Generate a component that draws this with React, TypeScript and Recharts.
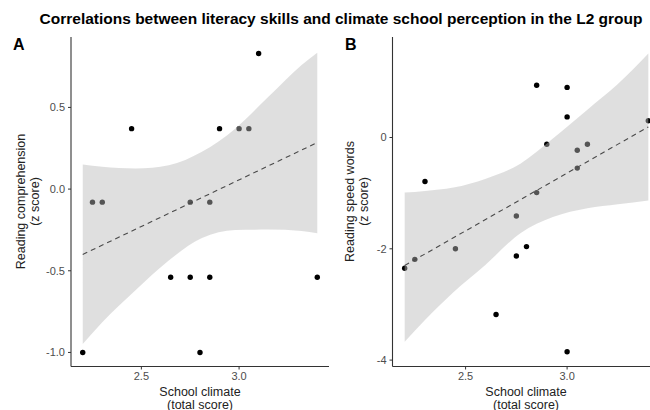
import React from 'react';
import { ComposedChart, Scatter, Area, Line, XAxis, YAxis } from 'recharts';

// Panel A: Reading comprehension
const aX = [3.1, 2.45, 2.9, 3.0, 3.05, 2.25, 2.3, 2.75, 2.85, 2.65, 2.75, 2.85, 3.4, 2.2, 2.8];
const aY = [0.83, 0.37, 0.37, 0.37, 0.37, -0.08, -0.08, -0.08, -0.08, -0.54, -0.54, -0.54, -0.54, -1.0, -1.0];
const aRibX = [2.2, 2.3, 2.47, 2.64, 2.81, 2.98, 3.15, 3.32, 3.4];
const aRibLo = [-0.948, -0.815, -0.62, -0.437, -0.3, -0.25, -0.248, -0.257, -0.27];
const aRibHi = [0.15, 0.136, 0.126, 0.146, 0.228, 0.37, 0.565, 0.76, 0.835];
const aFitX = [2.2, 3.4];
const aFitY = [-0.4, 0.285];
const aTicksY = [-1.0, -0.5, 0.0, 0.5];

// Panel B: Reading speed words
const bX = [2.85, 3.0, 3.0, 2.9, 3.05, 3.1, 3.05, 3.4, 2.3, 2.85, 2.75, 2.2, 2.25, 2.45, 2.75, 2.8, 2.65, 3.0];
const bY = [0.94, 0.9, 0.37, -0.12, -0.23, -0.12, -0.55, 0.3, -0.79, -0.99, -1.41, -2.35, -2.19, -2.0, -2.13, -1.96, -3.18, -3.85];
const bRibX = [2.2, 2.3, 2.44, 2.6, 2.77, 2.93, 3.1, 3.25, 3.4];
const bRibLo = [-3.67, -3.28, -2.78, -2.28, -1.72, -1.43, -1.27, -1.2, -1.13];
const bRibHi = [-0.99, -0.96, -0.9, -0.74, -0.47, -0.02, 0.5, 0.96, 1.51];
const bFitX = [2.2, 3.4];
const bFitY = [-2.3, 0.19];
const bTicksY = [-4, -2, 0];

const xTicks = [2.5, 3.0];

const toPts = (xs: number[], ys: number[]) => xs.map((x, i) => ({ x, y: ys[i] }));
const toRib = (xs: number[], lo: number[], hi: number[]) => xs.map((x, i) => ({ x, range: [lo[i], hi[i]] }));

const FONT = '"Liberation Sans", Arial, sans-serif';
const tickStyle = { fill: '#4d4d4d', fontSize: 11, fontFamily: FONT };
const axisLineStyle = { stroke: '#333333', strokeWidth: 1.1 };

const Dot = (p: any) => <circle cx={p.cx} cy={p.cy} r={2.7} fill="#000" />;

function Panel(props: {
  width: number; yWidth: number; right: number;
  pts: any[]; rib: any[]; fit: any[]; yDomain: [number, number]; yTicks: number[]; yFmt: (v: number) => string;
}) {
  return (
    <ComposedChart width={props.width} height={410} margin={{ top: 37, right: props.right, bottom: 23.5, left: 0 }}>
      <XAxis type="number" dataKey="x" domain={[2.14, 3.46]} ticks={xTicks} allowDataOverflow
        tickFormatter={(v: number) => v.toFixed(1)} height={20} tick={tickStyle}
        axisLine={axisLineStyle} tickLine={{ stroke: '#333333' }} tickSize={3} tickMargin={3} />
      <YAxis type="number" domain={props.yDomain} ticks={props.yTicks} allowDataOverflow
        tickFormatter={props.yFmt} width={props.yWidth} tick={tickStyle}
        axisLine={axisLineStyle} tickLine={{ stroke: '#333333' }} tickSize={3} tickMargin={3} />
      <Scatter data={props.pts} dataKey="y" shape={Dot} isAnimationActive={false} />
      <Area data={props.rib} dataKey="range" type="monotone" stroke="none" fill="#b9b9b9" fillOpacity={0.46}
        isAnimationActive={false} zIndex={650} activeDot={false} dot={false} />
      <Line data={props.fit} dataKey="y" type="linear" stroke="#4a4a4a" strokeWidth={1.1} strokeDasharray="5 4"
        dot={false} activeDot={false} isAnimationActive={false} zIndex={700} />
    </ComposedChart>
  );
}

export default function App() {
  const ptsA = toPts(aX, aY);
  const ribA = toRib(aRibX, aRibLo, aRibHi);
  const fitA = toPts(aFitX, aFitY);
  const ptsB = toPts(bX, bY);
  const ribB = toRib(bRibX, bRibLo, bRibHi);
  const fitB = toPts(bFitX, bFitY);
  return (
    <div style={{ position: 'absolute', left: 0, top: 0, width: 650, height: 410, overflow: 'hidden', background: '#fff' }}>
      <div style={{ position: 'absolute', left: 0, top: 0 }}>
        <Panel width={335} yWidth={71} right={6} pts={ptsA} rib={ribA} fit={fitA}
          yDomain={[-1.086, 0.931]} yTicks={aTicksY} yFmt={(v) => v.toFixed(1)} />
      </div>
      <div style={{ position: 'absolute', left: 330, top: 0 }}>
        <Panel width={336} yWidth={62.5} right={5.5} pts={ptsB} rib={ribB} fit={fitB}
          yDomain={[-4.115, 1.806]} yTicks={bTicksY} yFmt={(v) => String(v)} />
      </div>
      <svg width={650} height={410} style={{ position: 'absolute', left: 0, top: 0, pointerEvents: 'none' }}>
        <text x={341} y={24} textAnchor="middle" fontFamily={FONT} fontWeight="bold" fontSize={15.5} fill="#000">
          Correlations between literacy skills and climate school perception in the L2 group
        </text>
        <text x={13} y={50} fontFamily={FONT} fontWeight="bold" fontSize={16} fill="#000">A</text>
        <text x={345} y={50} fontFamily={FONT} fontWeight="bold" fontSize={16} fill="#000">B</text>
        <g fontFamily={FONT} fontSize={12.5} fill="#222" textAnchor="middle">
          <text x={200} y={392} dominantBaseline="central">School climate</text>
          <text x={200} y={404.5} dominantBaseline="central">(total score)</text>
          <text x={526} y={392} dominantBaseline="central">School climate</text>
          <text x={526} y={404.5} dominantBaseline="central">(total score)</text>
          <text x={21} y={201.5} dominantBaseline="central" transform="rotate(-90 21 201.5)">Reading comprehension</text>
          <text x={34.5} y={201.5} dominantBaseline="central" transform="rotate(-90 34.5 201.5)">(z score)</text>
          <text x={350} y={201.5} dominantBaseline="central" transform="rotate(-90 350 201.5)">Reading speed words</text>
          <text x={364} y={201.5} dominantBaseline="central" transform="rotate(-90 364 201.5)">(z score)</text>
        </g>
      </svg>
    </div>
  );
}
